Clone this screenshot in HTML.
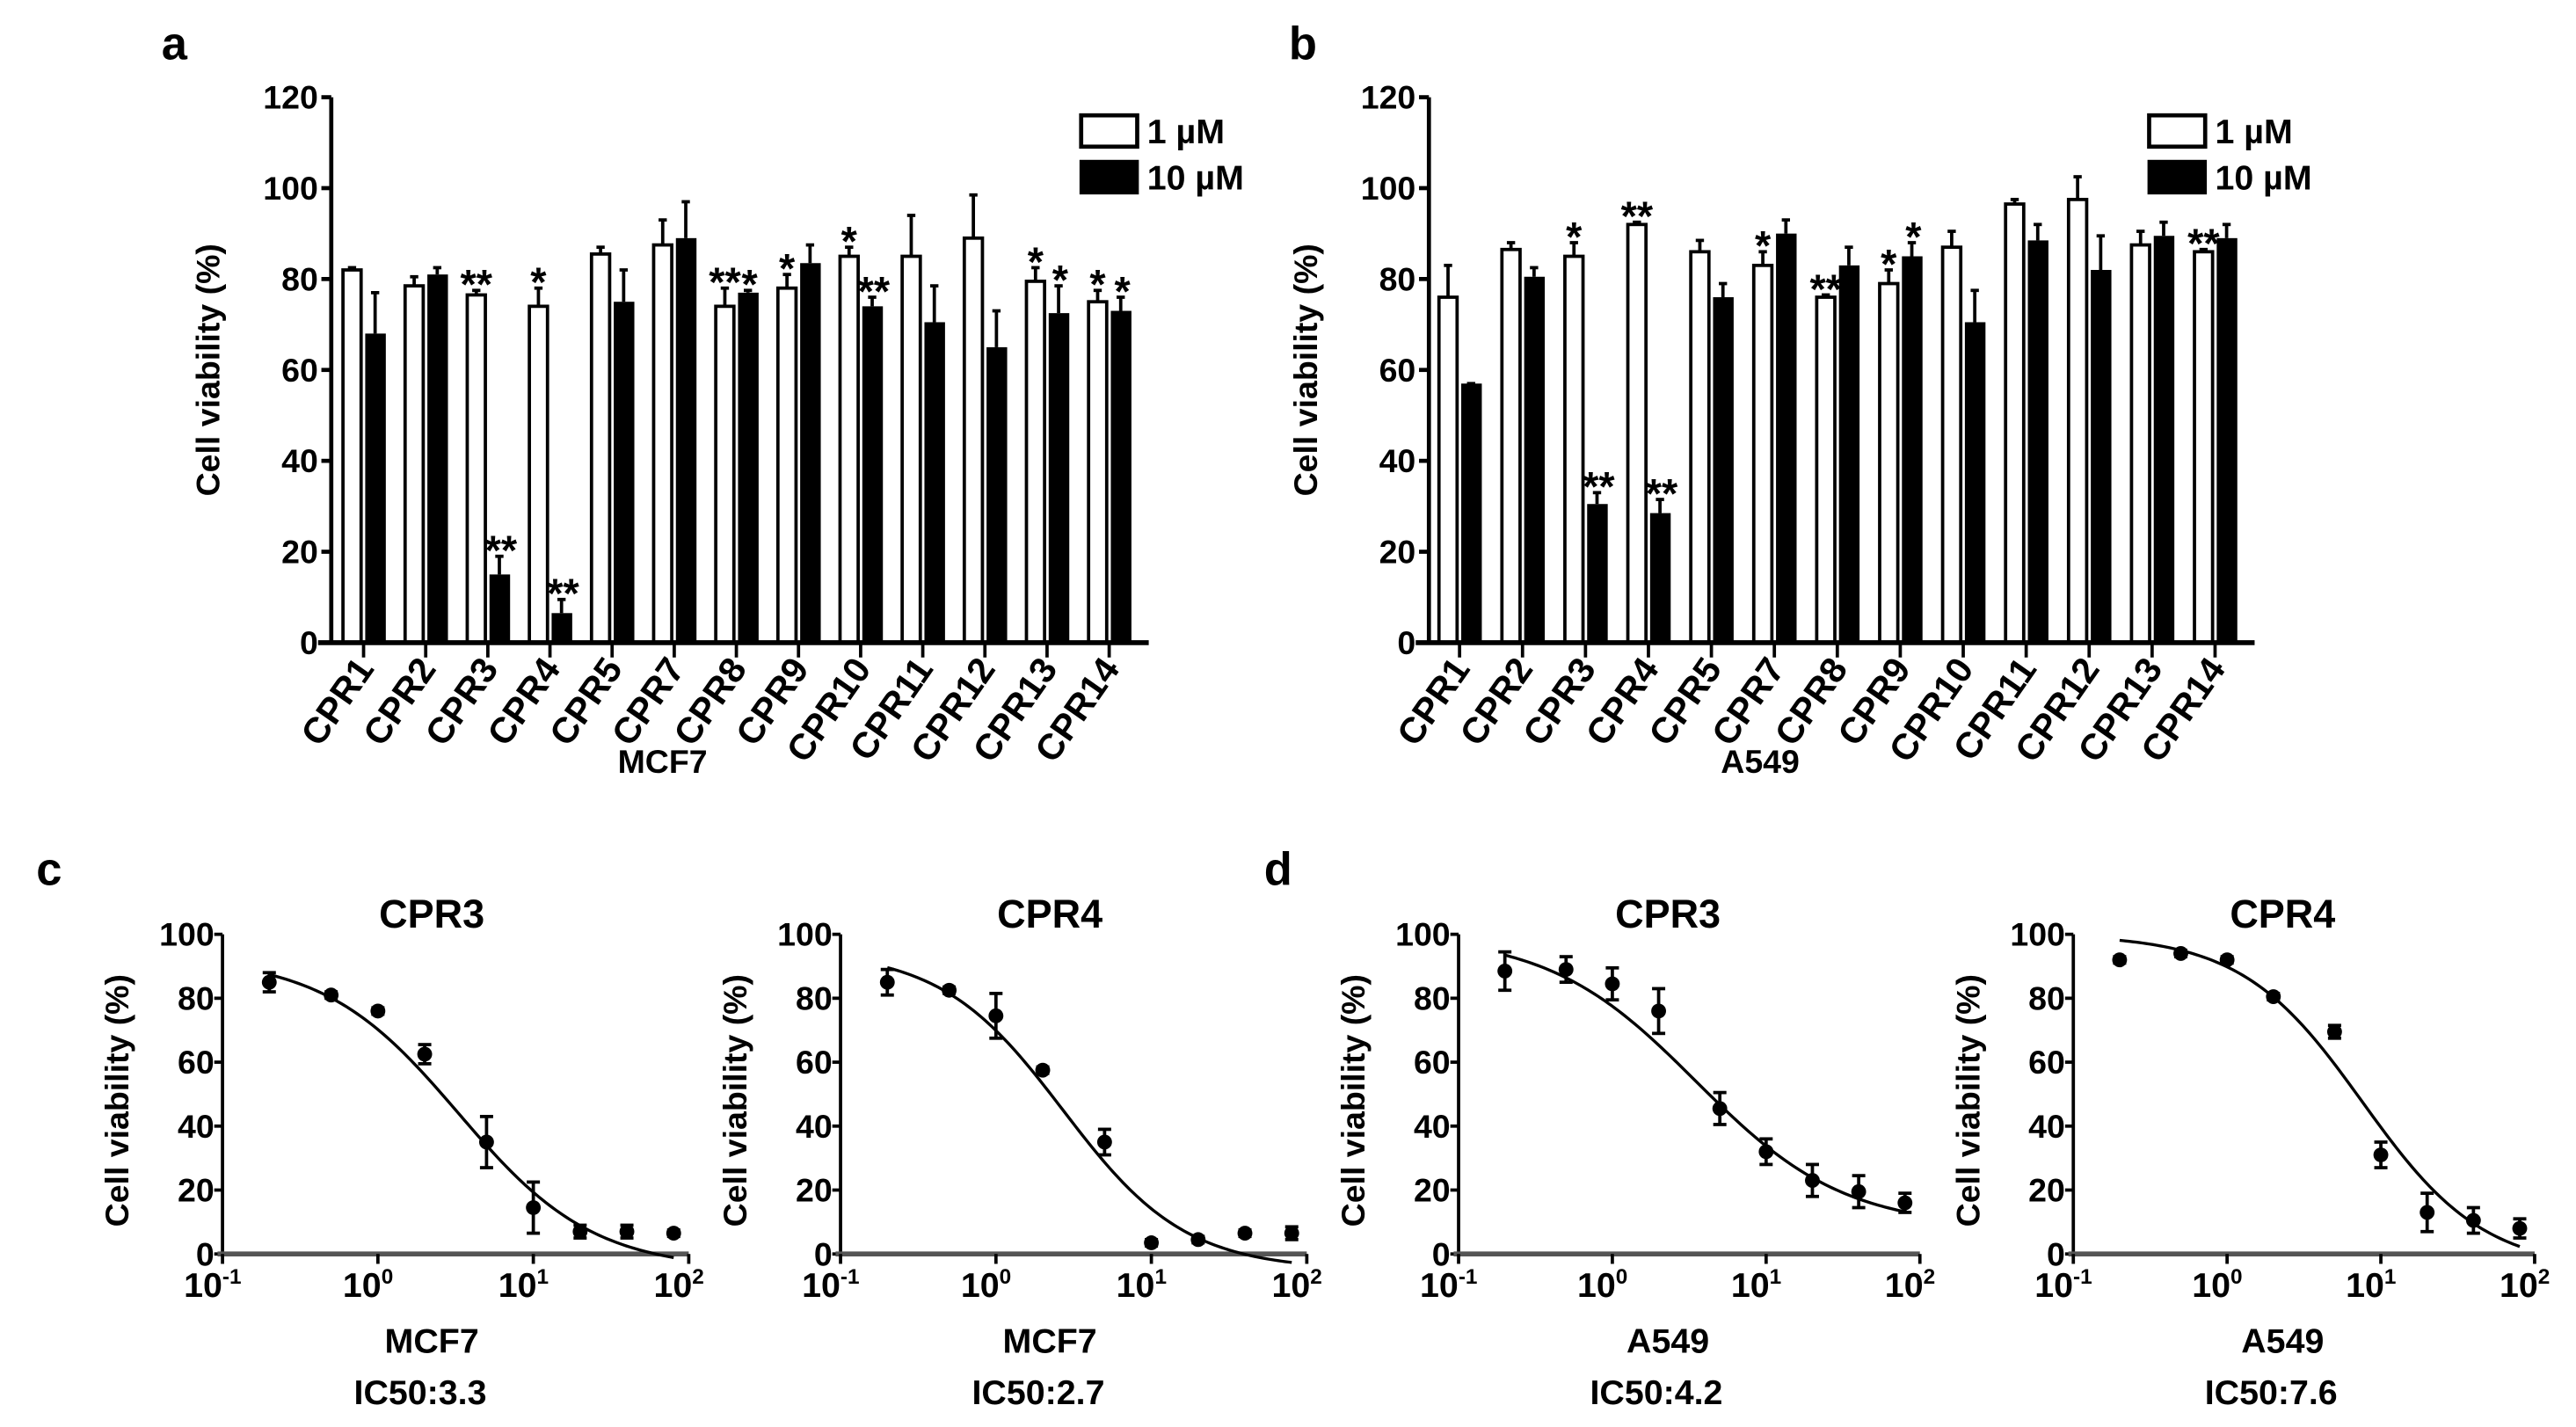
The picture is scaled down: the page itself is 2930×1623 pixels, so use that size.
<!DOCTYPE html>
<html><head><meta charset="utf-8"><style>
html,body{margin:0;padding:0;background:#fff;}
svg{display:block;}
text{font-family:"Liberation Sans",Arial,sans-serif;font-weight:bold;fill:#000;}
.n{font-family:"Liberation Sans Narrow","Liberation Sans",sans-serif;}
</style></head><body>
<svg id="fig" width="2930" height="1623" viewBox="0 0 1563 866" preserveAspectRatio="none" xmlns="http://www.w3.org/2000/svg">
<text x="98" y="36" font-size="28">a</text>
<text x="782" y="36" font-size="28">b</text>
<text x="22" y="537" font-size="28">c</text>
<text x="767" y="537" font-size="28">d</text>
</svg>
<script>
const NS="http://www.w3.org/2000/svg";
const svg=document.getElementById('fig');
function el(tag,attrs,parent,txt){const e=document.createElementNS(NS,tag);for(const k in attrs)e.setAttribute(k,attrs[k]);if(txt!==undefined)e.textContent=txt;(parent||svg).appendChild(e);return e;}

// ---------- bar chart data ----------
const categories=["CPR1","CPR2","CPR3","CPR4","CPR5","CPR7","CPR8","CPR9","CPR10","CPR11","CPR12","CPR13","CPR14"];
const yTicksBar=[0,20,40,60,80,100,120];
const mcf7Low=[82,78.5,76.5,74,85.5,87.5,74,78,85,85,89,79.5,75];
const mcf7LowErr=[0.5,2,1,4,1.5,5.5,4,3,2,9,9.5,3,2.5];
const mcf7High=[68,81,15,6.5,75,89,77,83.5,74,70.5,65,72.5,73];
const mcf7HighErr=[9,1.5,4,3,7,8,0.5,4,2,8,8,6,3];
const mcf7LowStars=["","","**","*","","","**","*","*","","","*","*"];
const mcf7HighStars=["","","**","**","","","*","","**","","","*","*"];
const a549Low=[76,86.5,85,92,86,83,76,79,87,96.5,97.5,87.5,86];
const a549LowErr=[7,1.5,3,0.5,2.5,3,0.5,3,3.5,1,5,3,0.5];
const a549High=[57,80.5,30.5,28.5,76,90,83,85,70.5,88.5,82,89.5,89];
const a549HighErr=[0,2,2.5,3,3,3,4,3,7,3.5,7.5,3,3];
const a549LowStars=["","","*","**","","*","**","*","","","","","**"];
const a549HighStars=["","","**","**","","","","*","","","","",""];

function barPanel(o){
  const g=el('g',{});
  
  
  const y0=390, ppu=331/120;
  const ys=v=>y0-v*ppu;
  const xs=i=>o.x0+i*o.step;
  const ya=el('line',{x1:o.ax,y1:ys(120),x2:o.ax,y2:y0,stroke:'#000','stroke-width':2.5},g);
  
  yTicksBar.forEach(t=>{
    el('line',{x1:o.ax-6,y1:ys(t),x2:o.ax,y2:ys(t),stroke:'#000','stroke-width':2.5},g);
    const tl=el('text',{x:o.ax-8,y:ys(t)+7,'font-size':20,'text-anchor':'end',class:'n'},g,String(t));
    
  });
  const yl=el('text',{x:0,y:0,'font-size':20,'text-anchor':'middle',transform:`translate(${o.ax-68},${ys(60)}) rotate(-90)`},g,'Cell viability (%)');
  
  categories.forEach((c,i)=>{
    const cx=xs(i);
    const w=el('rect',{x:cx-12.5,y:ys(o.low[i]),width:11,height:y0-ys(o.low[i]),fill:'#fff',stroke:'#000','stroke-width':2},g);
    
    el('line',{x1:cx-7,y1:ys(o.low[i]),x2:cx-7,y2:ys(o.low[i]+o.lowErr[i]),stroke:'#000','stroke-width':2},g);
    el('line',{x1:cx-9.5,y1:ys(o.low[i]+o.lowErr[i]),x2:cx-4.5,y2:ys(o.low[i]+o.lowErr[i]),stroke:'#000','stroke-width':2},g);
    const b=el('rect',{x:cx+1,y:ys(o.high[i]),width:12.5,height:y0-ys(o.high[i]),fill:'#000'},g);
    
    el('line',{x1:cx+7,y1:ys(o.high[i]),x2:cx+7,y2:ys(o.high[i]+o.highErr[i]),stroke:'#000','stroke-width':2},g);
    el('line',{x1:cx+4.5,y1:ys(o.high[i]+o.highErr[i]),x2:cx+9.5,y2:ys(o.high[i]+o.highErr[i]),stroke:'#000','stroke-width':2},g);
    if(o.lowStars[i]){const s=el('text',{x:cx-7,y:ys(o.low[i]+o.lowErr[i])+5,'font-size':25,'font-weight':'normal','text-anchor':'middle'},g,o.lowStars[i]);}
    if(o.highStars[i]){const s=el('text',{x:cx+8,y:ys(o.high[i]+o.highErr[i])+5,'font-size':25,'font-weight':'normal','text-anchor':'middle'},g,o.highStars[i]);}
    el('line',{x1:cx,y1:y0,x2:cx,y2:y0+9,stroke:'#000','stroke-width':2},g);
    const cl=el('text',{x:0,y:0,'font-size':22,'text-anchor':'end',transform:`translate(${cx+7},${y0+16}) rotate(-55)`},g,c);
    
  });
  const xa=el('line',{x1:o.ax-8,y1:y0,x2:o.xEnd,y2:y0,stroke:'#000','stroke-width':3},g);
  
  const xt=el('text',{x:o.titleX,y:469,'font-size':20,'text-anchor':'middle'},g,o.title);
  
  const lw=el('rect',{x:o.legX,y:70,width:34,height:19,fill:'#fff',stroke:'#000','stroke-width':2.5},g);
  
  const lt1=el('text',{x:o.legX+40,y:87,'font-size':21},g,'1 µM');
  
  const lb=el('rect',{x:o.legX-1,y:97,width:36,height:21,fill:'#000'},g);
  
  const lt2=el('text',{x:o.legX+40,y:115,'font-size':21},g,'10 µM');
  
}
barPanel({name:'bar-chart-mcf7',ax:201,x0:220.6,step:37.7,xEnd:697,low:mcf7Low,lowErr:mcf7LowErr,high:mcf7High,highErr:mcf7HighErr,lowStars:mcf7LowStars,highStars:mcf7HighStars,title:'MCF7',titleX:402,legX:656});
barPanel({name:'bar-chart-a549',ax:867,x0:885.6,step:38.2,xEnd:1368,low:a549Low,lowErr:a549LowErr,high:a549High,highErr:a549HighErr,lowStars:a549LowStars,highStars:a549HighStars,title:'A549',titleX:1068,legX:1304});

// ---------- dose-response data ----------
const doses=[0.2,0.5,1,2,5,10,20,40,80];
const yTicksCurve=[0,20,40,60,80,100];
const c1Vals=[85,81,76,62.5,35,14.5,7,7,6.5];
const c1Err=[3,1,1,3,8,8,2,2,1];
const c2Vals=[85,82.5,74.5,57.5,35,3.5,4.5,6.5,6.5];
const c2Err=[4,1,7,1,4,1,1,1,2];
const d1Vals=[88.5,89,84.5,76,45.5,32,23,19.5,16];
const d1Err=[6,4,5,7,5,4,5,5,3];
const d2Vals=[92,94,92,80.5,69.5,31,13,10.5,8];
const d2Err=[1,1,1,1,2,4,6,4,3];
// fitted 4PL params: [top, bottom, IC50, hill]
const c1Fit=[93,-5,3.3,1.0];
const c2Fit=[95,-5,2.7,1.1];
const d1Fit=[100,8,3.5,0.9];
const d2Fit=[100,-5,7.6,1.1];

function curvePanel(o){
  const g=el('g',{});
  
  
  const y0=761, ppu=(761-567)/100, dec=o.dec;
  const ys=v=>y0-v*ppu;
  const xs=c=>o.ax+(Math.log10(c)+1)*dec;
  const ya=el('line',{x1:o.ax,y1:ys(100),x2:o.ax,y2:y0,stroke:'#000','stroke-width':2},g);
  
  yTicksCurve.forEach(t=>{
    el('line',{x1:o.ax-5,y1:ys(t),x2:o.ax,y2:ys(t),stroke:'#000','stroke-width':2},g);
    const tl=el('text',{x:o.ax-5,y:ys(t)+7,'font-size':20,'text-anchor':'end',class:'n'},g,String(t));
    
  });
  const xa=el('line',{x1:o.ax-3,y1:y0,x2:xs(100),y2:y0,stroke:'#555','stroke-width':3},g);
  
  [-1,0,1,2].forEach(p=>{
    const x=xs(Math.pow(10,p));
    el('line',{x1:x,y1:y0,x2:x,y2:y0+6,stroke:'#000','stroke-width':2},g);
    const t=el('text',{x:x-6,y:y0+26,'font-size':21,'text-anchor':'middle',class:'n'},g);
    
    el('tspan',{},t,'10');
    el('tspan',{'font-size':13,dy:-8},t,String(p));
  });
  const yl=el('text',{x:0,y:0,'font-size':20,'text-anchor':'middle',transform:`translate(${o.ax-57},${ys(48)}) rotate(-90)`},g,'Cell viability (%)');
  
  const tt=el('text',{x:o.ax+127,y:563,'font-size':24,'text-anchor':'middle',class:'n'},g,o.title);
  
  const xt=el('text',{x:o.ax+127,y:821,'font-size':21,'text-anchor':'middle',class:'n'},g,o.cell);
  
  const ic=el('text',{x:o.ax+120,y:852,'font-size':21,'text-anchor':'middle',class:'n'},g,o.ic);
  
  const [top,bot,ic50,h]=o.fit;
  let d='';
  for(let k=0;k<=120;k++){
    const lc=Math.log10(0.2)+k/120*(Math.log10(80)-Math.log10(0.2));
    const c=Math.pow(10,lc);
    const v=bot+(top-bot)/(1+Math.pow(c/ic50,h));
    d+=(k?'L':'M')+xs(c).toFixed(2)+','+ys(v).toFixed(2);
  }
  const cv=el('path',{d:d,fill:'none',stroke:'#000','stroke-width':1.8},g);
  
  doses.forEach((c,i)=>{
    const x=xs(c),v=o.vals[i],e=o.err[i];
    el('line',{x1:x,y1:ys(v-e),x2:x,y2:ys(v+e),stroke:'#000','stroke-width':2},g);
    el('line',{x1:x-4,y1:ys(v-e),x2:x+4,y2:ys(v-e),stroke:'#000','stroke-width':2},g);
    el('line',{x1:x-4,y1:ys(v+e),x2:x+4,y2:ys(v+e),stroke:'#000','stroke-width':2},g);
    const p=el('circle',{cx:x,cy:ys(v),r:4.5,fill:'#000'},g);
    
  });
}
curvePanel({name:'curve-mcf7-cpr3',ax:135,dec:94.3,vals:c1Vals,err:c1Err,fit:c1Fit,title:'CPR3',cell:'MCF7',ic:'IC50:3.3'});
curvePanel({name:'curve-mcf7-cpr4',ax:510,dec:94.3,vals:c2Vals,err:c2Err,fit:c2Fit,title:'CPR4',cell:'MCF7',ic:'IC50:2.7'});
curvePanel({name:'curve-a549-cpr3',ax:885,dec:93.3,vals:d1Vals,err:d1Err,fit:d1Fit,title:'CPR3',cell:'A549',ic:'IC50:4.2'});
curvePanel({name:'curve-a549-cpr4',ax:1258,dec:93.3,vals:d2Vals,err:d2Err,fit:d2Fit,title:'CPR4',cell:'A549',ic:'IC50:7.6'});
</script>
</body></html>
